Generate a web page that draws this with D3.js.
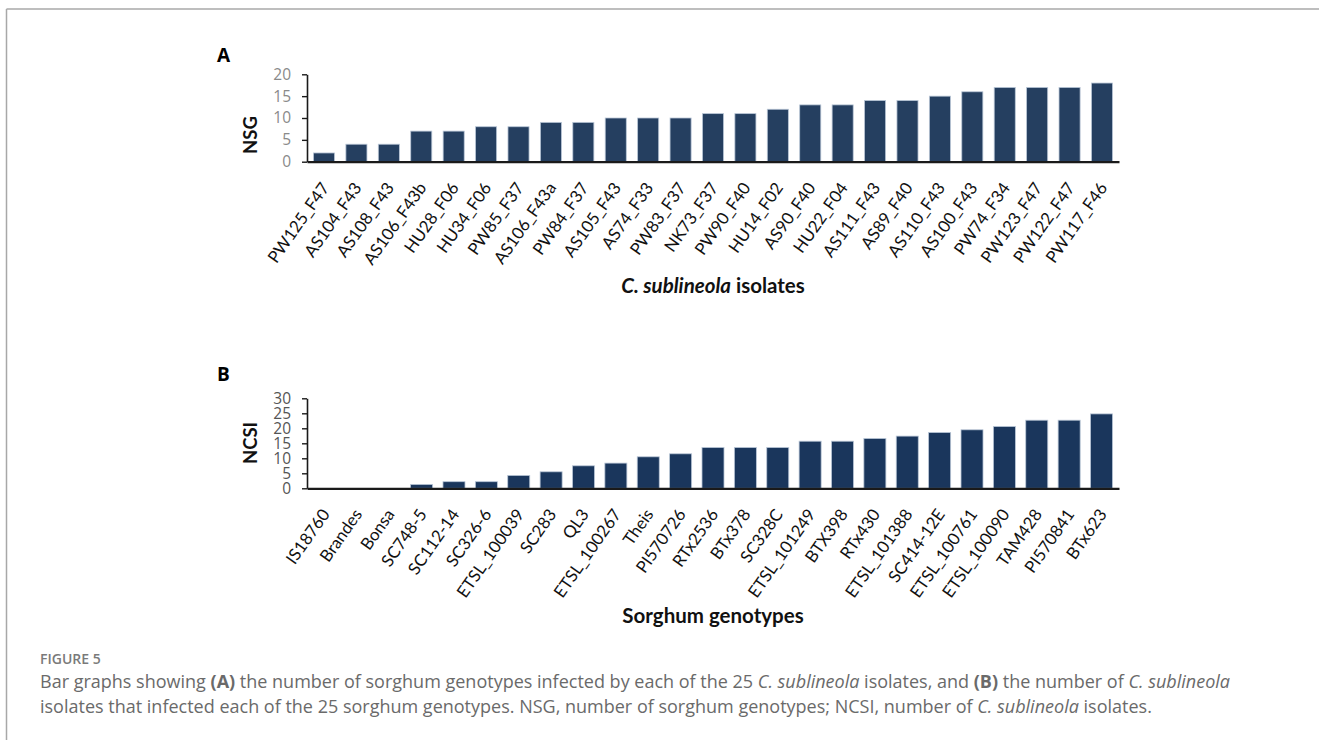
<!DOCTYPE html>
<html><head><meta charset="utf-8">
<script src="https://cdn.jsdelivr.net/npm/d3@7"></script>
<style>
html,body{margin:0;padding:0;background:#fff;}
svg{display:block;}
</style></head>
<body>
<svg id="chart" width="1319" height="740"></svg>
<script>
// ---- Data ----
const isolates = ["PW125_F47","AS104_F43","AS108_F43","AS106_F43b","HU28_F06","HU34_F06","PW85_F37","AS106_F43a","PW84_F37","AS105_F43","AS74_F33","PW83_F37","NK73_F37","PW90_F40","HU14_F02","AS90_F40","HU22_F04","AS111_F43","AS89_F40","AS110_F43","AS100_F43","PW74_F34","PW123_F47","PW122_F47","PW117_F46"];
const nsgValues = [2,4,4,7,7,8,8,9,9,10,10,10,11,11,12,13,13,14,14,15,16,17,17,17,18];
const nsgTicks = [0,5,10,15,20];

const genotypes = ["IS18760","Brandes","Bonsa","SC748-5","SC112-14","SC326-6","ETSL_100039","SC283","QL3","ETSL_100267","Theis","PI570726","RTx2536","BTx378","SC328C","ETSL_101249","BTX398","RTx430","ETSL_101388","SC414-12E","ETSL_100761","ETSL_100090","TAM428","PI570841","BTx623"];
const ncsiValues = [0,0,0,1.3,2.2,2.2,4.3,5.5,7.5,8.4,10.5,11.5,13.6,13.6,13.6,15.7,15.7,16.6,17.4,18.6,19.5,20.6,22.7,22.7,24.8];
const ncsiTicks = [0,5,10,15,20,25,30];

const svg = d3.select("#chart");

// frame
svg.append("line").attr("x1",6.5).attr("y1",9).attr("x2",1319).attr("y2",9).attr("stroke","#a8a8a8").attr("stroke-width",1.5);
svg.append("line").attr("x1",6.5).attr("y1",9).attr("x2",6.5).attr("y2",740).attr("stroke","#a8a8a8").attr("stroke-width",1.5);

function panel(o){
  const g = svg.append("g");
  const x = d3.scaleBand().domain(o.cats).range([307,1119]).paddingInner(o.pad).paddingOuter(0.2);
  const y = d3.scaleLinear().domain([0,o.max]).range([o.y0,o.y1]);
  // bars
  g.selectAll("rect.bar").data(o.vals).enter().append("rect")
    .attr("x",(d,i)=>x(o.cats[i]))
    .attr("y",d=>y(d))
    .attr("width",x.bandwidth())
    .attr("height",d=>y(0)-y(d))
    .attr("fill",o.fill)
    .attr("stroke","#b9c6d6").attr("stroke-width",0.8);
  // y axis
  const ya = g.append("g").attr("transform","translate(307,0)")
    .call(d3.axisLeft(y).tickValues(o.ticks).tickSize(5).tickSizeOuter(0).tickPadding(11));
  ya.select(".domain").attr("stroke","#1a1a1a").attr("stroke-width",1.6);
  ya.selectAll(".tick line").attr("stroke","#1a1a1a").attr("stroke-width",1.4);
  ya.selectAll(".tick text").attr("font-family","Open Sans").attr("font-size",o.tickFs).attr("fill",o.tickCol);
  // x axis
  const xa = g.append("g").attr("transform",`translate(0,${o.y0})`)
    .call(d3.axisBottom(x).tickSize(0).tickSizeOuter(0).tickPadding(0));
  xa.select(".domain").attr("stroke","#1a1a1a").attr("stroke-width",2.2);
  xa.selectAll(".tick text")
    .attr("font-family","Lato").attr("font-size",16.8).attr("fill","#111")
    .attr("text-anchor","end").attr("dy",0).attr("y",0).attr("x",0)
    .attr("transform",`translate(6,${o.labOff}) rotate(-55)`);
  // y title
  g.append("text").attr("transform",`translate(${o.ytX},${o.ytY}) rotate(-90)`)
    .attr("text-anchor","middle").attr("font-family","Lato").attr("font-weight",700)
    .attr("font-size",18.5).attr("fill","#111").text(o.ytitle);
  // panel letter
  g.append("text").attr("x",217).attr("y",o.letterY).attr("font-family","Open Sans")
    .attr("font-weight",700).attr("font-size",19).attr("fill","#000").text(o.letter);
  return g;
}

const gA = panel({cats:isolates,vals:nsgValues,ticks:nsgTicks,max:20,y0:161.7,y1:74.3,pad:0.35,
  fill:"#253f60",tickFs:15.5,tickCol:"#8a8a8a",ytitle:"NSG",ytX:257,ytY:135,letter:"A",letterY:62,labOff:26});
const tA = gA.append("text").attr("x",713).attr("y",293).attr("text-anchor","middle")
  .attr("font-family","Lato").attr("font-weight",700).attr("font-size",20.5).attr("fill","#111");
tA.append("tspan").attr("font-style","italic").text("C. sublineola");
tA.append("tspan").text(" isolates");

const gB = panel({cats:genotypes,vals:ncsiValues,ticks:ncsiTicks,max:30,y0:488.3,y1:398.3,pad:0.32,
  fill:"#1a365c",tickFs:15.5,tickCol:"#555",ytitle:"NCSI",ytX:257,ytY:443,letter:"B",letterY:381,labOff:26});
gB.append("text").attr("x",713).attr("y",623).attr("text-anchor","middle")
  .attr("font-family","Lato").attr("font-weight",700).attr("font-size",20.5).attr("fill","#111")
  .text("Sorghum genotypes");

// caption
svg.append("text").attr("x",40).attr("y",664).attr("font-family","Open Sans").attr("font-weight",600)
  .attr("font-size",14).attr("fill","#7a7a7a").text("FIGURE 5");
const cap = svg.append("g").attr("font-family","Open Sans").attr("font-size",18).attr("fill","#6a6a6a");
const l1 = cap.append("text").attr("x",40).attr("y",688);
l1.append("tspan").text("Bar graphs showing ");
l1.append("tspan").attr("font-weight",700).text("(A)");
l1.append("tspan").text(" the number of sorghum genotypes infected by each of the 25 ");
l1.append("tspan").attr("font-style","italic").text("C. sublineola");
l1.append("tspan").text(" isolates, and ");
l1.append("tspan").attr("font-weight",700).text("(B)");
l1.append("tspan").text(" the number of ");
l1.append("tspan").attr("font-style","italic").text("C. sublineola");
const l2 = cap.append("text").attr("x",40).attr("y",713);
l2.append("tspan").text("isolates that infected each of the 25 sorghum genotypes. NSG, number of sorghum genotypes; NCSI, number of ");
l2.append("tspan").attr("font-style","italic").text("C. sublineola");
l2.append("tspan").text(" isolates.");
</script>
</body></html>
